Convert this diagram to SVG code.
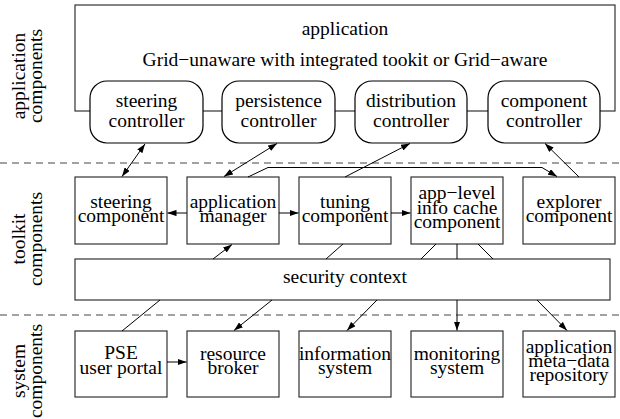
<svg xmlns="http://www.w3.org/2000/svg" width="620" height="419" viewBox="0 0 620 419">
<style>
text{font-family:"Liberation Serif","Times New Roman",serif;font-size:19.5px;fill:#000;text-anchor:middle}
.box{fill:#fff;stroke:#333;stroke-width:1.2}
.rbox{fill:#fff;stroke:#000;stroke-width:1.2}
.ln{fill:none;stroke:#000;stroke-width:1}
.dash{stroke:#444;stroke-width:1;stroke-dasharray:7 5}
</style>
<defs>
<marker id="ah" viewBox="0 0 10 7" markerWidth="9" markerHeight="6.3" refX="10" refY="3.5" orient="auto-start-reverse" markerUnits="userSpaceOnUse">
<path d="M0,0 L10,3.5 L0,7 z" fill="#000"/>
</marker>
</defs>
<rect width="620" height="419" fill="#fff"/>
<g id="labels">
<text transform="translate(25,76) rotate(-90)">application</text>
<text transform="translate(42,76) rotate(-90)">components</text>
<text transform="translate(25,239) rotate(-90)">toolkit</text>
<text transform="translate(42,239) rotate(-90)">components</text>
<text transform="translate(25,371) rotate(-90)">system</text>
<text transform="translate(42,371) rotate(-90)">components</text>
</g>
<line class="dash" x1="0" y1="163" x2="620" y2="163"/>
<line class="dash" x1="0" y1="315" x2="620" y2="315"/>
<g id="application">
<rect class="box" x="75" y="5" width="540" height="106"/>
<text x="345" y="35">application</text>
<text x="345" y="66">Grid−unaware with integrated tookit or Grid−aware</text>
</g>
<g id="steering-controller">
<rect class="rbox" x="90" y="81" width="113" height="62" rx="17"/>
<text x="146.5" y="107">steering</text>
<text x="146.5" y="127">controller</text>
</g>
<g id="persistence-controller">
<rect class="rbox" x="222" y="81" width="113" height="62" rx="17"/>
<text x="278.5" y="107">persistence</text>
<text x="278.5" y="127">controller</text>
</g>
<g id="distribution-controller">
<rect class="rbox" x="355" y="81" width="112" height="62" rx="17"/>
<text x="411" y="107">distribution</text>
<text x="411" y="127">controller</text>
</g>
<g id="component-controller">
<rect class="rbox" x="488" y="81" width="112" height="62" rx="17"/>
<text x="544" y="107">component</text>
<text x="544" y="127">controller</text>
</g>
<g id="steering-component">
<rect class="box" x="75" y="177" width="92" height="67"/>
<text x="121" y="208">steering</text>
<text x="121" y="222">component</text>
</g>
<g id="application-manager">
<rect class="box" x="187" y="177" width="92" height="67"/>
<text x="233" y="208">application</text>
<text x="233" y="222">manager</text>
</g>
<g id="tuning-component">
<rect class="box" x="299" y="177" width="92" height="67"/>
<text x="345" y="208">tuning</text>
<text x="345" y="222">component</text>
</g>
<g id="info-cache">
<rect class="box" x="411" y="177" width="92" height="67"/>
<text x="457" y="199">app−level</text>
<text x="457" y="213.5">info cache</text>
<text x="457" y="228">component</text>
</g>
<g id="explorer-component">
<rect class="box" x="523" y="177" width="92" height="67"/>
<text x="569" y="208">explorer</text>
<text x="569" y="222">component</text>
</g>
<g id="security-context">
<rect class="box" x="75" y="259" width="535" height="41"/>
<text x="345" y="283">security context</text>
</g>
<g id="pse-portal">
<rect class="box" x="75" y="331" width="92" height="66"/>
<text x="121" y="359">PSE</text>
<text x="121" y="374">user portal</text>
</g>
<g id="resource-broker">
<rect class="box" x="187" y="331" width="92" height="66"/>
<text x="233" y="360">resource</text>
<text x="233" y="374">broker</text>
</g>
<g id="information-system">
<rect class="box" x="299" y="331" width="92" height="66"/>
<text x="345" y="360">information</text>
<text x="345" y="374">system</text>
</g>
<g id="monitoring-system">
<rect class="box" x="411" y="331" width="92" height="66"/>
<text x="457" y="360">monitoring</text>
<text x="457" y="374">system</text>
</g>
<g id="metadata-repository">
<rect class="box" x="523" y="331" width="92" height="66"/>
<text x="569" y="353">application</text>
<text x="569" y="367">meta−data</text>
<text x="569" y="381">repository</text>
</g>
<g id="connectors">
<line class="ln" x1="145" y1="144" x2="122" y2="176.5" marker-start="url(#ah)" marker-end="url(#ah)"/>
<line class="ln" x1="277" y1="143.5" x2="224" y2="176.5" marker-start="url(#ah)" marker-end="url(#ah)"/>
<polyline class="ln" points="248,177 268,167.5 542,167.5 557,176.5" marker-end="url(#ah)"/>
<line class="ln" x1="345" y1="177" x2="410" y2="143.5" marker-end="url(#ah)"/>
<line class="ln" x1="579" y1="177" x2="545" y2="143.5" marker-end="url(#ah)"/>
<line class="ln" x1="187" y1="213" x2="167.5" y2="213" marker-end="url(#ah)"/>
<line class="ln" x1="279" y1="213" x2="298.5" y2="213" marker-end="url(#ah)"/>
<line class="ln" x1="391" y1="213" x2="410.5" y2="213" marker-end="url(#ah)"/>
<line class="ln" x1="213" y1="259" x2="232" y2="244.5" marker-end="url(#ah)"/>
<line class="ln" x1="343" y1="244" x2="326" y2="259"/>
<line class="ln" x1="436" y1="244" x2="421" y2="259"/>
<line class="ln" x1="457" y1="244" x2="457" y2="259"/>
<line class="ln" x1="478" y1="244" x2="493" y2="259"/>
<line class="ln" x1="160" y1="300" x2="122" y2="331"/>
<line class="ln" x1="272" y1="300" x2="234" y2="330.5" marker-end="url(#ah)"/>
<line class="ln" x1="377" y1="300" x2="347" y2="330.5" marker-end="url(#ah)"/>
<line class="ln" x1="457" y1="300" x2="457" y2="330.5" marker-end="url(#ah)"/>
<line class="ln" x1="537" y1="300" x2="567" y2="330.5" marker-end="url(#ah)"/>
<line class="ln" x1="167" y1="362" x2="186.5" y2="362" marker-end="url(#ah)"/>
</g>
</svg>
